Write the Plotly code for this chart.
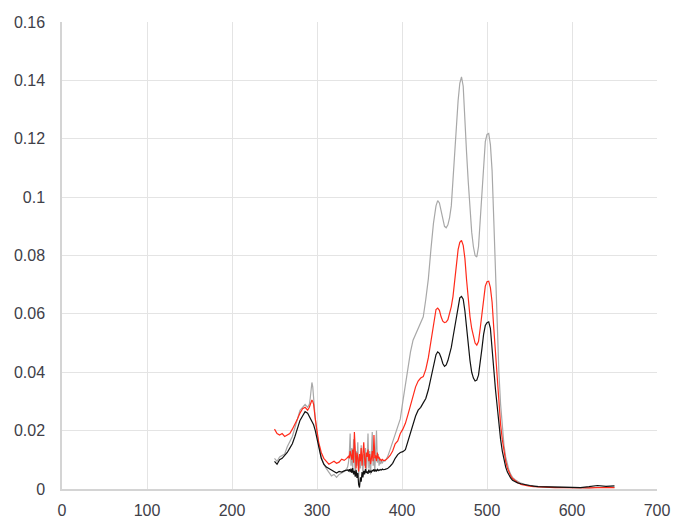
import plotly.graph_objects as go

# ---------------- data ----------------
wl_a = [250, 253, 256, 259, 262, 265, 268, 271, 274, 277, 280, 283, 286, 289, 291, 292, 293, 294,
        295, 296, 298, 300, 302, 305, 308, 311, 314, 317, 320, 323, 326, 329, 332, 335]
gray_a = [0.0105, 0.0095, 0.0110, 0.0115, 0.0120, 0.0145, 0.0160, 0.0180, 0.0210, 0.0240, 0.0270,
          0.0280, 0.0290, 0.0280, 0.0290, 0.0310, 0.0350, 0.0365, 0.0350, 0.0310, 0.0240, 0.0190,
          0.0150, 0.0110, 0.0085, 0.0070, 0.0055, 0.0045, 0.0050, 0.0040, 0.0050, 0.0055, 0.0060, 0.0070]
red_a = [0.0205, 0.0190, 0.0185, 0.0190, 0.0180, 0.0185, 0.0190, 0.0205, 0.0220, 0.0240, 0.0260,
         0.0275, 0.0280, 0.0270, 0.0280, 0.0290, 0.0300, 0.0305, 0.0300, 0.0290, 0.0240, 0.0200,
         0.0160, 0.0125, 0.0105, 0.0095, 0.0085, 0.0090, 0.0095, 0.0088, 0.0092, 0.0102, 0.0098, 0.0105]
black_a = [0.0095, 0.0085, 0.0100, 0.0105, 0.0115, 0.0125, 0.0140, 0.0155, 0.0180, 0.0210, 0.0235,
           0.0250, 0.0265, 0.0260, 0.0250, 0.0245, 0.0240, 0.0235, 0.0228, 0.0220, 0.0200, 0.0170,
           0.0140, 0.0105, 0.0085, 0.0075, 0.0070, 0.0065, 0.0060, 0.0055, 0.0060, 0.0058, 0.0062, 0.0065]

wl_b = list(range(336, 379))
gray_b = [0.0075, 0.0090, 0.0120, 0.0190, 0.0080, 0.0140, 0.0060, 0.0170, 0.0100, 0.0050, 0.0130,
          0.0080, 0.0160, 0.0040, 0.0110, 0.0070, 0.0150, 0.0090, 0.0050, 0.0120, 0.0080, 0.0140,
          0.0060, 0.0100, 0.0190, 0.0070, 0.0130, 0.0050, 0.0160, 0.0195, 0.0080, 0.0110, 0.0060,
          0.0140, 0.0200, 0.0090, 0.0120, 0.0080, 0.0100, 0.0085, 0.0095, 0.0090, 0.0095]
red_b = [0.0108, 0.0112, 0.0105, 0.0130, 0.0115, 0.0100, 0.0135, 0.0090, 0.0195, 0.0110, 0.0070,
         0.0125, 0.0105, 0.0060, 0.0120, 0.0095, 0.0140, 0.0080, 0.0115, 0.0160, 0.0105, 0.0070,
         0.0125, 0.0110, 0.0135, 0.0095, 0.0120, 0.0085, 0.0105, 0.0130, 0.0095, 0.0185, 0.0105,
         0.0115, 0.0095, 0.0125, 0.0105, 0.0110, 0.0098, 0.0102, 0.0097, 0.0101, 0.0098]
black_b = [0.0065, 0.0062, 0.0068, 0.0058, 0.0070, 0.0055, 0.0072, 0.0050, 0.0062, 0.0042, 0.0066,
           0.0038, 0.0055, 0.0015, 0.0005, 0.0040, 0.0025, 0.0058, 0.0040, 0.0062, 0.0050, 0.0068,
           0.0055, 0.0060, 0.0052, 0.0066, 0.0056, 0.0061, 0.0058, 0.0065, 0.0061, 0.0068, 0.0060,
           0.0065, 0.0062, 0.0067, 0.0063, 0.0066, 0.0064, 0.0067, 0.0065, 0.0068, 0.0066]

wl_c = [380, 383, 386, 389, 392, 395, 398, 401, 404, 407, 410, 413, 416, 419, 422, 425, 428, 431,
        434, 437, 440, 442, 444, 446, 448, 450, 452, 454, 456, 458, 460, 462, 464, 466, 468, 470,
        472, 474, 476, 478, 480, 482, 484, 486, 488, 490, 492, 494, 496, 498, 500, 502, 504, 506,
        508, 510, 512, 514, 516, 518, 520, 522, 524, 526, 528, 530, 533, 536, 540, 545, 550, 555,
        560, 570, 580, 590, 600, 610, 620, 630, 640, 650]
gray_c = [0.0095, 0.0110, 0.0135, 0.0160, 0.0190, 0.0210, 0.0240, 0.0300, 0.0360, 0.0420, 0.0470,
          0.0510, 0.0530, 0.0550, 0.0570, 0.0590, 0.0650, 0.0720, 0.0820, 0.0910, 0.0970, 0.0988,
          0.0980, 0.0950, 0.0920, 0.0900, 0.0895, 0.0905, 0.0930, 0.0970, 0.1060, 0.1160, 0.1250,
          0.1330, 0.1390, 0.1412, 0.1380, 0.1240, 0.1150, 0.1050, 0.0960, 0.0880, 0.0830, 0.0800,
          0.0795, 0.0830, 0.0920, 0.1020, 0.1120, 0.1190, 0.1215, 0.1218, 0.1180, 0.1090, 0.0920,
          0.0740, 0.0570, 0.0400, 0.0290, 0.0210, 0.0150, 0.0110, 0.0082, 0.0063, 0.0050, 0.0040,
          0.0032, 0.0026, 0.0020, 0.0015, 0.0012, 0.0010, 0.0009, 0.0008, 0.0007, 0.0006, 0.0005,
          0.0006, 0.0004, 0.0006, 0.0005, 0.0006]
red_c = [0.0098, 0.0105, 0.0115, 0.0130, 0.0155, 0.0165, 0.0190, 0.0205, 0.0225, 0.0255, 0.0290,
         0.0320, 0.0350, 0.0370, 0.0380, 0.0385, 0.0410, 0.0450, 0.0510, 0.0570, 0.0615, 0.0620,
         0.0612, 0.0590, 0.0575, 0.0570, 0.0572, 0.0580, 0.0600, 0.0625, 0.0660, 0.0715, 0.0770,
         0.0820, 0.0845, 0.0852, 0.0835, 0.0790, 0.0715, 0.0650, 0.0590, 0.0550, 0.0520, 0.0500,
         0.0493, 0.0505, 0.0550, 0.0605, 0.0660, 0.0695, 0.0710, 0.0712, 0.0690, 0.0640, 0.0550,
         0.0460, 0.0370, 0.0290, 0.0220, 0.0170, 0.0125, 0.0095, 0.0072, 0.0056, 0.0044, 0.0036,
         0.0028, 0.0022, 0.0016, 0.0012, 0.0010, 0.0008, 0.0007, 0.0006, 0.0005, 0.0005, 0.0004,
         0.0005, 0.0004, 0.0005, 0.0004, 0.0005]
black_c = [0.0067, 0.0070, 0.0078, 0.0088, 0.0105, 0.0118, 0.0125, 0.0128, 0.0135, 0.0165, 0.0190,
           0.0220, 0.0250, 0.0270, 0.0280, 0.0295, 0.0310, 0.0340, 0.0380, 0.0420, 0.0460, 0.0470,
           0.0465, 0.0450, 0.0430, 0.0420, 0.0425, 0.0440, 0.0460, 0.0485, 0.0520, 0.0555, 0.0595,
           0.0630, 0.0655, 0.0660, 0.0650, 0.0610, 0.0550, 0.0490, 0.0440, 0.0400, 0.0380, 0.0370,
           0.0373, 0.0390, 0.0430, 0.0480, 0.0530, 0.0560, 0.0570, 0.0573, 0.0550, 0.0490, 0.0410,
           0.0340, 0.0280, 0.0220, 0.0170, 0.0130, 0.0098, 0.0075, 0.0058, 0.0046, 0.0037, 0.0030,
           0.0025, 0.0021, 0.0018, 0.0014, 0.0012, 0.0010, 0.0008, 0.0007, 0.0006, 0.0005, 0.0004,
           0.0005, 0.0008, 0.0012, 0.0009, 0.0011]

wavelength = wl_a + wl_b + wl_c
series_gray = gray_a + gray_b + gray_c
series_red = red_a + red_b + red_c
series_black = black_a + black_b + black_c

x_tick_vals = [0, 100, 200, 300, 400, 500, 600, 700]
x_tick_labels = ["0", "100", "200", "300", "400", "500", "600", "700"]
y_tick_vals = [0, 0.02, 0.04, 0.06, 0.08, 0.1, 0.12, 0.14, 0.16]
y_tick_labels = ["0", "0.02", "0.04", "0.06", "0.08", "0.1", "0.12", "0.14", "0.16"]

# ---------------- figure ----------------
fig = go.Figure()
for vals, color in [(series_gray, "#a8a8a8"), (series_red, "#ff2a1a"), (series_black, "#111111")]:
    fig.add_trace(go.Scatter(x=wavelength, y=vals, mode="lines",
                             line=dict(color=color, width=1.2), showlegend=False))

font = dict(family="Liberation Sans, Arial, sans-serif", size=16, color="#404048")
fig.update_layout(
    width=673, height=527,
    margin=dict(l=62, r=16, t=22, b=38, autoexpand=False),
    paper_bgcolor="white", plot_bgcolor="white",
    font=font,
    xaxis=dict(range=[0, 700], tickvals=x_tick_vals, ticktext=x_tick_labels,
               showgrid=True, gridcolor="#e4e4e4", gridwidth=1, zeroline=False,
               showline=True, linecolor="#d4d4d4", linewidth=1.5, ticks="",
               ticklabelstandoff=6, tickfont=font, automargin=False),
    yaxis=dict(range=[0, 0.16], tickvals=y_tick_vals, ticktext=y_tick_labels,
               showgrid=True, gridcolor="#e4e4e4", gridwidth=1, zeroline=False,
               showline=True, linecolor="#d4d4d4", linewidth=1.5, ticks="",
               ticklabelstandoff=12, tickfont=font, automargin=False),
)

fig.write_html("out.html")
